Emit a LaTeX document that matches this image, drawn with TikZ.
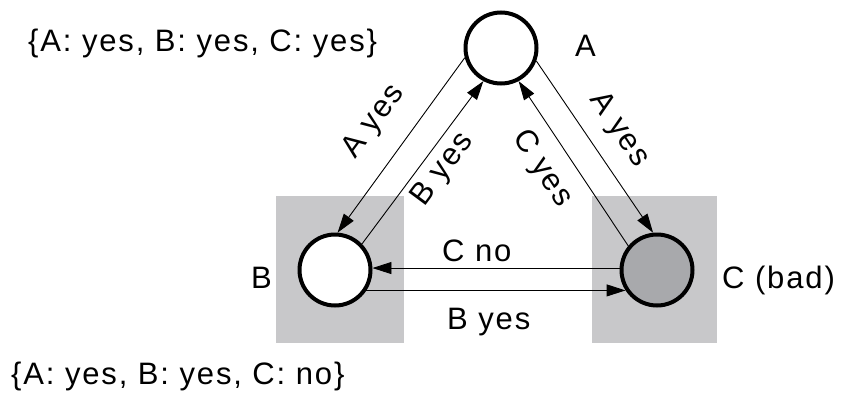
\documentclass[tikz,border=0pt]{standalone}
\usepackage{fontspec}
\setmainfont{Liberation Sans}[LetterSpace=6]
\usetikzlibrary{arrows.meta}
\definecolor{boxgray}{RGB}{200,200,202}
\definecolor{badgray}{RGB}{168,169,172}
\tikzset{
  state/.style={circle, draw, line width=4pt, minimum size=71pt, inner sep=0pt, fill=white},
  edge/.style={line width=0.9pt, -{Triangle[length=19pt,width=12pt]}},
  lbl/.style={font=\fontsize{31}{34}\selectfont, inner sep=0pt},
}
\begin{document}
\begin{tikzpicture}[x=1pt,y=-1pt]
\useasboundingbox (0,0) rectangle (841,394);
\fill[boxgray] (276,196) rectangle (404,343);
\fill[boxgray] (592,196) rectangle (717,343);
\node[state] (A) at (501,48) {};
\node[state] (B) at (335,270) {};
\node[state, fill=badgray] (C) at (657,270) {};
\node[lbl, anchor=base west] (la) at (575,56) {A};
\node[lbl, anchor=base west] (lb) at (251,288) {B};
\node[lbl, anchor=base west] (lc) at (722,288) {C (bad)};
\node[lbl, anchor=base west] (t1) at (28,51) {\{A: yes, B: yes, C: yes\}};
\node[lbl, anchor=base west] (t2) at (11,384) {\{A: yes, B: yes, C: no\}};
\draw[edge] (A.195) -- (B.86);
\draw[edge] (B.44) -- (A.242);
\draw[edge] (A.340) -- (C.96);
\draw[edge] (C.140) -- (A.298);
\draw[edge] (C.177) -- (B.3);
\draw[edge] (B.-33.5) -- (C.213.5);
\node[lbl, rotate=53.6] (e1) at (374,122) {A yes};
\node[lbl, rotate=53.4] (e2) at (443,170) {B yes};
\node[lbl, rotate=-56.4] (e3) at (619,130) {A yes};
\node[lbl, rotate=-56.6] (e4) at (542,169) {C yes};
\node[lbl, anchor=base west] (e5) at (442,261) {C no};
\node[lbl, anchor=base west] (e6) at (447,329) {B yes};
\end{tikzpicture}
\end{document}
